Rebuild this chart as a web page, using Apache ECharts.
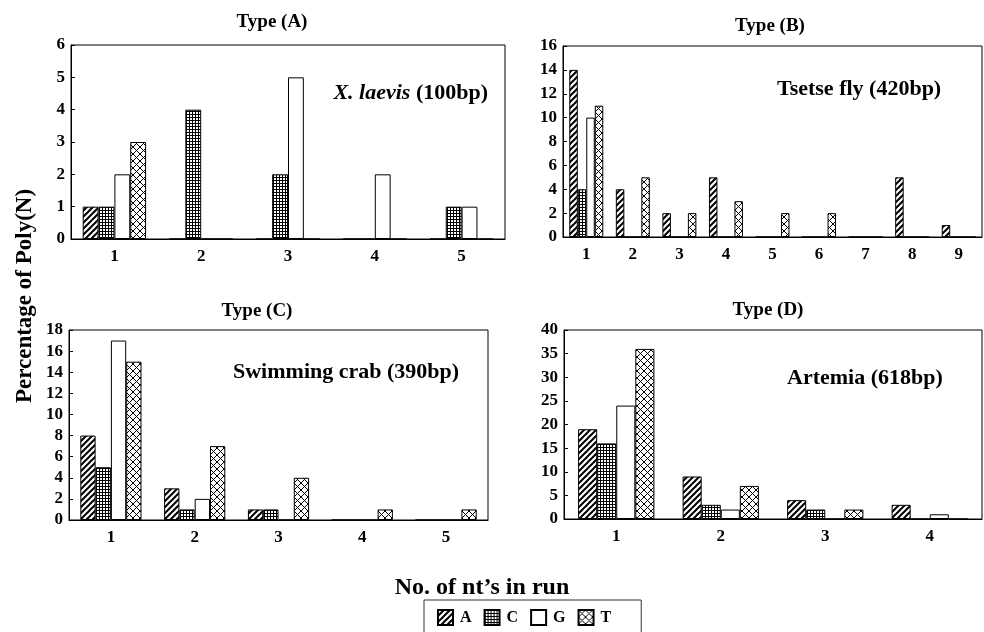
<!DOCTYPE html>
<html>
<head>
<meta charset="utf-8">
<script src="https://cdn.jsdelivr.net/npm/echarts@6/dist/echarts.min.js"></script>
<style>
  html, body { margin: 0; padding: 0; background: #fff; }
  #chart { width: 984px; height: 632px; }
</style>
</head>
<body>
<div id="chart"></div>
<script>
// values (percentage of poly(N) runs by run length)
const bases = ['A', 'C', 'G', 'T'];

const catsA = ['1', '2', '3', '4', '5'];
const typeA_A = [1, 0, 0, 0, 0];
const typeA_C = [1, 4, 2, 0, 1];
const typeA_G = [2, 0, 5, 2, 1];
const typeA_T = [3, 0, 0, 0, 0];

const catsB = ['1', '2', '3', '4', '5', '6', '7', '8', '9'];
const typeB_A = [14, 4, 2, 5, 0, 0, 0, 5, 1];
const typeB_C = [4, 0, 0, 0, 0, 0, 0, 0, 0];
const typeB_G = [10, 0, 0, 0, 0, 0, 0, 0, 0];
const typeB_T = [11, 5, 2, 3, 2, 2, 0, 0, 0];

const catsC = ['1', '2', '3', '4', '5'];
const typeC_A = [8, 3, 1, 0, 0];
const typeC_C = [5, 1, 1, 0, 0];
const typeC_G = [17, 2, 0, 0, 0];
const typeC_T = [15, 7, 4, 1, 1];

const catsD = ['1', '2', '3', '4'];
const typeD_A = [19, 9, 4, 3];
const typeD_C = [16, 3, 2, 0];
const typeD_G = [24, 2, 0, 1];
const typeD_T = [36, 7, 2, 0];

const FONT = '"Liberation Serif", "Times New Roman", serif';

// fill patterns, black on white
function makeCanvas(w, h, draw) {
    const c = document.createElement('canvas');
    c.width = w; c.height = h;
    const ctx = c.getContext('2d');
    ctx.fillStyle = '#fff';
    ctx.fillRect(0, 0, w, h);
    ctx.strokeStyle = '#000';
    ctx.fillStyle = '#000';
    draw(ctx);
    return c;
}
const hatch = makeCanvas(6, 6, ctx => {
    ctx.lineWidth = 2;
    ctx.beginPath();
    ctx.moveTo(-1, 7); ctx.lineTo(7, -1);
    ctx.moveTo(-4, 4); ctx.lineTo(4, -4);
    ctx.moveTo(2, 10); ctx.lineTo(10, 2);
    ctx.stroke();
});
const grid = makeCanvas(3, 3, ctx => {
    ctx.fillRect(0, 0, 3, 1);
    ctx.fillRect(0, 0, 1, 3);
});
const cross = makeCanvas(7, 7, ctx => {
    ctx.lineWidth = 1;
    ctx.beginPath();
    ctx.moveTo(0, 0); ctx.lineTo(7, 7);
    ctx.moveTo(0, 7); ctx.lineTo(7, 0);
    ctx.stroke();
});
const fills = {
    A: { image: hatch, repeat: 'repeat' },
    C: { image: grid, repeat: 'repeat' },
    G: '#fff',
    T: { image: cross, repeat: 'repeat' }
};

const panels = [
    { cats: catsA, data: [typeA_A, typeA_C, typeA_G, typeA_T], max: 6, interval: 1,
      grid: { left: 71, top: 45, width: 434, height: 194 } },
    { cats: catsB, data: [typeB_A, typeB_C, typeB_G, typeB_T], max: 16, interval: 2,
      grid: { left: 563, top: 46, width: 419, height: 191 } },
    { cats: catsC, data: [typeC_A, typeC_C, typeC_G, typeC_T], max: 18, interval: 2,
      grid: { left: 69, top: 330, width: 419, height: 190 } },
    { cats: catsD, data: [typeD_A, typeD_C, typeD_G, typeD_T], max: 40, interval: 5,
      grid: { left: 564, top: 330, width: 418, height: 189 } }
];

const labelStyle = { color: '#000', fontFamily: FONT, fontWeight: 'bold' };

const series = [];
panels.forEach((p, i) => {
    p.data.forEach((vals, j) => {
        series.push({
            name: bases[j],
            type: 'bar',
            xAxisIndex: i,
            yAxisIndex: i,
            data: vals,
            barGap: 0,
            barCategoryGap: '27%',
            itemStyle: { color: fills[bases[j]], borderColor: '#000', borderWidth: 1 },
            emphasis: { disabled: true },
            animation: false
        });
    });
});

function txt(x, y, text, size, opts) {
    return {
        type: 'text', x: x, y: y,
        style: Object.assign({
            text: text, fill: '#000', fontFamily: FONT, fontWeight: 'bold',
            fontSize: size, align: 'center', verticalAlign: 'middle'
        }, opts || {})
    };
}

const option = {
    backgroundColor: '#fff',
    animation: false,
    grid: panels.map(p => Object.assign({
        show: true, borderColor: '#000', borderWidth: 1, backgroundColor: 'transparent'
    }, p.grid)),
    xAxis: panels.map((p, i) => ({
        type: 'category',
        gridIndex: i,
        data: p.cats,
        axisLine: { lineStyle: { color: '#000', width: 1 } },
        axisTick: { inside: true, length: 4, lineStyle: { color: '#000' } },
        axisLabel: Object.assign({ fontSize: 17, margin: 9 }, labelStyle),
        splitLine: { show: false }
    })),
    yAxis: panels.map((p, i) => ({
        type: 'value',
        gridIndex: i,
        min: 0,
        max: p.max,
        interval: p.interval,
        axisLine: { show: true, lineStyle: { color: '#000', width: 1 } },
        axisTick: { show: true, inside: true, length: 4, lineStyle: { color: '#000' } },
        axisLabel: Object.assign({ fontSize: 17, margin: 6 }, labelStyle),
        splitLine: { show: false }
    })),
    legend: {
        data: bases,
        left: 424,
        top: 600,
        icon: 'rect',
        itemWidth: 15,
        itemHeight: 15,
        itemGap: 12,
        padding: [9, 30, 20, 13],
        borderColor: '#333',
        borderWidth: 1,
        selectedMode: false,
        textStyle: { color: '#000', fontFamily: FONT, fontWeight: 'bold', fontSize: 16,
                     width: 14, padding: [0, 0, 0, 2] }
    },
    graphic: [
        txt(272, 22, 'Type (A)', 19),
        txt(770, 26, 'Type (B)', 19),
        txt(257, 311, 'Type (C)', 19),
        txt(768, 310, 'Type (D)', 19),
        txt(488, 93, '{i|X. laevis} (100bp)', 22, {
            align: 'right',
            rich: { i: { fontStyle: 'italic', fontWeight: 'bold', fontFamily: FONT, fontSize: 22 } }
        }),
        txt(777, 89, 'Tsetse fly (420bp)', 22, { align: 'left' }),
        txt(233, 372, 'Swimming crab (390bp)', 22, { align: 'left' }),
        txt(787, 378, 'Artemia (618bp)', 22, { align: 'left' }),
        { type: 'text', x: 25, y: 296, rotation: Math.PI / 2,
          style: { text: 'Percentage of Poly(N)', fill: '#000', fontFamily: FONT, fontWeight: 'bold',
                   fontSize: 23, align: 'center', verticalAlign: 'middle' } },
        txt(482, 588, 'No. of nt\u2019s in run', 24)
    ],
    series: series
};

const chart = echarts.init(document.getElementById('chart'), null, { renderer: 'canvas' });
chart.setOption(option);
window.addEventListener('resize', chart.resize);
</script>
</body>
</html>
